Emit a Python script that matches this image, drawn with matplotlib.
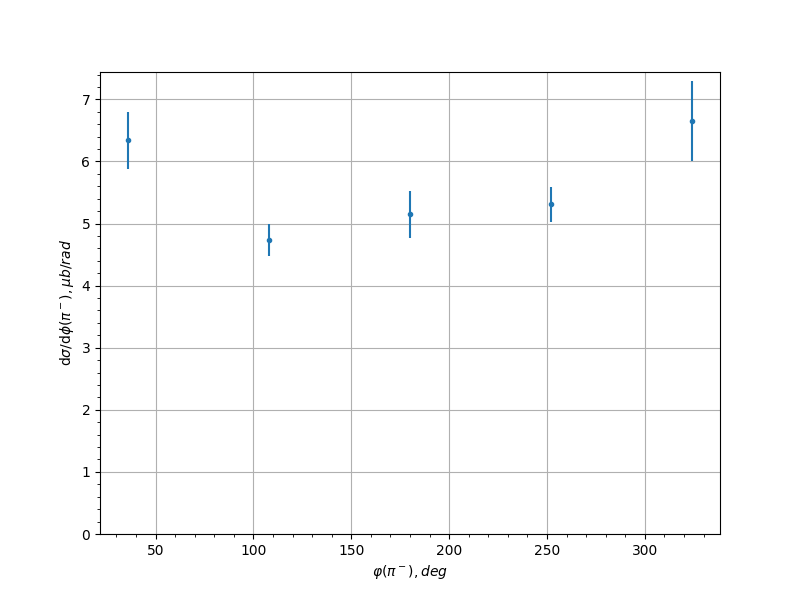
import matplotlib
matplotlib.use("Agg")
import matplotlib.pyplot as plt

phi = [36, 108, 180, 252, 324]
xsec = [6.34, 4.73, 5.15, 5.31, 6.65]
err = [0.46, 0.26, 0.38, 0.28, 0.65]

fig, ax = plt.subplots(figsize=(8, 6), dpi=100)
ax.errorbar(phi, xsec, yerr=err, fmt='.')
ax.set_ylim(bottom=0)
ax.minorticks_on()
ax.grid(True)
ax.set_xlabel(r"$\varphi(\pi^-), deg$")
ax.set_ylabel(r"d$\sigma$/d$\phi(\pi^-), \mu b/rad$")
fig.savefig("out.png")
